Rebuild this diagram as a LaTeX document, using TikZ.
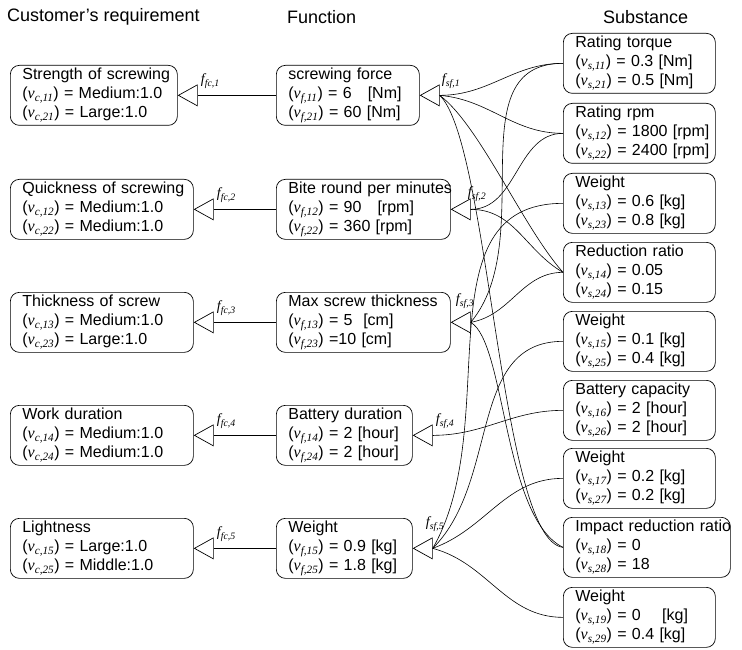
\documentclass[tikz,border=0pt]{standalone}
\usepackage{fontspec}
\setmainfont{Liberation Sans}
\newfontfamily\tms{Liberation Serif}
\newcommand{\vsub}[1]{({\tms\itshape v}\textsubscript{\tms\itshape #1})}
\newcommand{\flab}[1]{{\tms\itshape f}\textsubscript{\tms\itshape #1}}
\usetikzlibrary{calc, arrows.meta}

\begin{document}
\begin{tikzpicture}[x=1pt,y=-1pt,
        box/.style={draw, rounded corners=9pt, line width=0.7pt, align=left, anchor=north west,
            inner xsep=12pt, inner ysep=0pt, minimum height=60pt, font=\fontsize{16}{19}\selectfont},
        head/.style={anchor=west, inner sep=0pt, font=\fontsize{18}{21}\selectfont},
        opentri/.style={line width=0.7pt, -{Triangle[open, length=20pt, width=22pt]}},
        link/.style={line width=0.6pt},
        flabel/.style={anchor=south west, inner sep=0pt, font=\fontsize{14}{16}\selectfont}]
            \useasboundingbox (0,0) rectangle (742,650);
            \node[head] (hc) at (7,17) {Customer’s requirement};
            \node[head] (hf) at (287,17) {Function};
            \node[head] (hs) at (603,17) {Substance};

            \node[box, text width=143pt] (c1) at (10,65) {\mbox{Strength of screwing}\\\vsub{c,11} = Medium:1.0\\\vsub{c,21} = Large:1.0};
            \node[box, text width=159pt] (c2) at (10,179) {\mbox{Quickness of screwing}\\\vsub{c,12} = Medium:1.0\\\vsub{c,22} = Medium:1.0};
            \node[box, text width=159pt] (c3) at (10,292) {Thickness of screw\\\vsub{c,13} = Medium:1.0\\\vsub{c,23} = Large:1.0};
            \node[box, text width=159pt] (c4) at (10,405) {Work duration\\\vsub{c,14} = Medium:1.0\\\vsub{c,24} = Medium:1.0};
            \node[box, text width=159pt] (c5) at (10,518) {Lightness\\\vsub{c,15} = Large:1.0\\\vsub{c,25} = Middle:1.0};

            \node[box, text width=119pt] (f1) at (276,65) {screwing force\\\vsub{f,11} = 6\ \ \ [Nm]\\\vsub{f,21} = 60 [Nm]};
            \node[box, text width=150pt] (f2) at (276,179) {\mbox{Bite round per minutes}\\\vsub{f,12} = 90\ \ \ [rpm]\\\vsub{f,22} = 360 [rpm]};
            \node[box, text width=150pt] (f3) at (276,292) {\mbox{Max screw thickness}\\\vsub{f,13} = 5\ \ [cm]\\\vsub{f,23} =10 [cm]};
            \node[box, text width=112pt] (f4) at (276,405) {\mbox{Battery duration}\\\vsub{f,14} = 2 [hour]\\\vsub{f,24} = 2 [hour]};
            \node[box, text width=112pt] (f5) at (276,518) {Weight\\\vsub{f,15} = 0.9 [kg]\\\vsub{f,25} = 1.8 [kg]};

            \node[box, text width=128pt] (s1) at (563,33) {Rating torque\\\vsub{s,11} = 0.3 [Nm]\\\vsub{s,21} = 0.5 [Nm]};
            \node[box, text width=128pt] (s2) at (563,103) {Rating rpm\\\mbox{\vsub{s,12} = 1800 [rpm]}\\\mbox{\vsub{s,22} = 2400 [rpm]}};
            \node[box, text width=128pt] (s3) at (563,173) {Weight\\\vsub{s,13} = 0.6 [kg]\\\vsub{s,23} = 0.8 [kg]};
            \node[box, text width=128pt] (s4) at (563,242) {Reduction ratio\\\vsub{s,14} = 0.05\\\vsub{s,24} = 0.15};
            \node[box, text width=128pt] (s5) at (563,311) {Weight\\\vsub{s,15} = 0.1 [kg]\\\vsub{s,25} = 0.4 [kg]};
            \node[box, text width=128pt] (s6) at (563,380) {\mbox{Battery capacity}\\\vsub{s,16} = 2 [hour]\\\vsub{s,26} = 2 [hour]};
            \node[box, text width=128pt] (s7) at (563,448) {Weight\\\vsub{s,17} = 0.2 [kg]\\\vsub{s,27} = 0.2 [kg]};
            \node[box, text width=143pt] (s8) at (563,517) {\mbox{Impact reduction ratio}\\\vsub{s,18} = 0\\\vsub{s,28} = 18};
            \node[box, text width=128pt] (s9) at (563,587) {Weight\\\vsub{s,19} = 0\ \ \ \ [kg]\\\vsub{s,29} = 0.4 [kg]};

            \foreach \i in {1,...,5}{
                \draw[opentri] (f\i.west) -- (c\i.east);
                \node[flabel] (lfc\i) at ($(c\i.east)+(23,-7)$) {\flab{fc,\i}};
                \coordinate (b\i) at ($(f\i.east)+(20,0)$);
                \draw[opentri] (b\i) -- (f\i.east);
            }
            \node[flabel] (lsf1) at ($(b1)+(2,-7)$) {\flab{sf,1}};
            \node[flabel] (lsf2) at ($(b2)+(-3,-8)$) {\flab{sf,2}};
            \node[flabel] (lsf3) at ($(b3)+(-15,-14)$) {\flab{sf,3}};
            \node[flabel] (lsf4) at ($(b4)+(3,-7)$) {\flab{sf,4}};
            \node[flabel] (lsf5) at ($(b5)+(-7,-17)$) {\flab{sf,5}};

            \draw[link] (b1) to[out=0,in=180] (s1.west);
            \draw[link] (b1) to[out=-5,in=180] (s2.west);
            \draw[link] (b1) .. controls +(40,30) and +(-40,-45) .. (s4.west);
            \draw[link] (b1) .. controls +(50,48) and +(-63,-7) .. (s8.west);
            \draw[link] (b2) to[out=0,in=180] (s2.west);
            \draw[link] (b2) to[out=0,in=150] (s4.west);
            \draw[link] (b3) to[out=50,in=180] (s1.west);
            \draw[link] (b3) to[out=10,in=180] (s4.west);
            \draw[link] (b3) .. controls +(35,20) and +(-60,-30) .. (s8.west);
            \draw[link] (b4) to[out=0,in=180] (s6.west);
            \draw[link] (b5) to[out=60,in=180] (s3.west);
            \draw[link] (b5) to[out=45,in=180] (s5.west);
            \draw[link] (b5) to[out=20,in=180] (s7.west);
            \draw[link] (b5) to[out=-15,in=180] (s9.west);
        \end{tikzpicture}
\end{document}
